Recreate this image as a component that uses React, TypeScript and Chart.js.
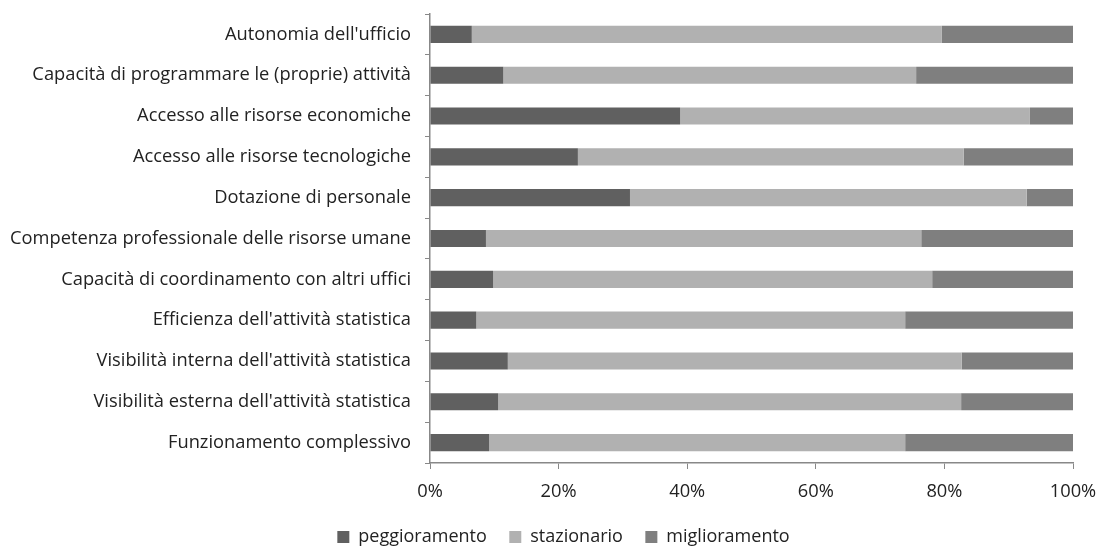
import React, { useEffect, useRef } from "react";
import { Chart, registerables } from "chart.js";

Chart.register(...registerables);

const categories = [
  "Autonomia dell'ufficio",
  "Capacità di programmare le (proprie) attività",
  "Accesso alle risorse economiche",
  "Accesso alle risorse tecnologiche",
  "Dotazione di personale",
  "Competenza professionale delle risorse umane",
  "Capacità di coordinamento con altri uffici",
  "Efficienza dell'attività statistica",
  "Visibilità interna dell'attività statistica",
  "Visibilità esterna dell'attività statistica",
  "Funzionamento complessivo",
];

const peggioramento = [6.5, 11.4, 38.9, 23.0, 31.1, 8.7, 9.8, 7.2, 12.1, 10.6, 9.2];
const stazionario = [73.1, 64.2, 54.4, 60.0, 61.7, 67.7, 68.3, 66.7, 70.6, 72.0, 64.7];
const miglioramento = [20.4, 24.4, 6.7, 17.0, 7.2, 23.6, 21.9, 26.1, 17.3, 17.4, 26.1];

const seriesNames = ["peggioramento", "stazionario", "miglioramento"];
const xTicks = [0, 20, 40, 60, 80, 100];

const legendShift = {
  id: "legendShift",
  afterLayout(chart: any) {
    const lg = chart.legend;
    if (!lg) return;
    lg.left += 27;
    lg.right += 27;
  },
};

export default function App() {
  const ref = useRef<HTMLCanvasElement | null>(null);
  useEffect(() => {
    if (!ref.current) return;
    const fam = "'Open Sans', sans-serif";
    const chart = new Chart(ref.current, {
      type: "bar",
      data: {
        labels: categories,
        datasets: [
          { label: seriesNames[0], data: peggioramento, backgroundColor: "#606060" },
          { label: seriesNames[1], data: stazionario, backgroundColor: "#b1b1b1" },
          { label: seriesNames[2], data: miglioramento, backgroundColor: "#7f7f7f" },
        ],
      },
      plugins: [legendShift],
      options: {
        indexAxis: "y",
        responsive: false,
        animation: false,
        maintainAspectRatio: false,
        layout: { padding: { top: 14, right: 26, left: 0, bottom: -10 } },
        datasets: { bar: { barPercentage: 0.42, categoryPercentage: 1 } },
        plugins: {
          tooltip: { enabled: false },
          legend: {
            position: "bottom",
            labels: {
              font: { family: fam, size: 18 },
              color: "#222",
              boxWidth: 12,
              boxHeight: 12,
              padding: 22.5,
            },
          },
        },
        scales: {
          x: {
            stacked: true,
            min: 0,
            max: 100,
            afterBuildTicks: (s: any) => {
              s.ticks = xTicks.map((v) => ({ value: v }));
            },
            ticks: {
              font: { family: fam, size: 18.3 },
              color: "#222",
              padding: 12,
              maxRotation: 0,
              callback: (v: any) => v + "%",
            },
            grid: { drawOnChartArea: false, drawTicks: true, tickLength: 6, color: "#888" },
            border: { display: true, color: "#888", width: 1.5 },
            afterFit: (s: any) => {
              s.height = 42.5;
              s.paddingLeft = 0;
              s.paddingRight = 0;
            },
          },
          y: {
            stacked: true,
            ticks: { font: { family: fam, size: 18.3 }, color: "#222", padding: 14 },
            grid: { drawOnChartArea: false, drawTicks: true, tickLength: 5, color: "#888", offset: true },
            border: { display: true, color: "#888", width: 1.5 },
            afterFit: (s: any) => {
              s.width = 430;
              s.paddingTop = 0;
              s.paddingBottom = 0;
            },
          },
        },
      },
    });
    return () => chart.destroy();
  }, []);
  return (
    <div style={{ position: "fixed", left: 0, top: 0, width: 1099, height: 546, background: "#fff" }}>
      <canvas ref={ref} width={1099} height={546} />
    </div>
  );
}
